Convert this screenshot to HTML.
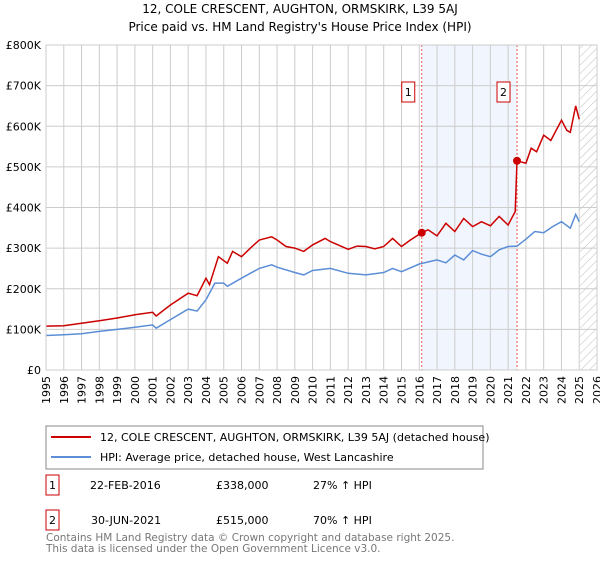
<!DOCTYPE html>
<html><head><meta charset="utf-8"><style>
body{margin:0;background:#fff;font-family:"DejaVu Sans","Liberation Sans",sans-serif;}
svg text{font-family:"DejaVu Sans","Liberation Sans",sans-serif;}
</style></head><body>
<svg id="chart" width="600" height="560" xmlns="http://www.w3.org/2000/svg">
<defs>
<pattern id="hatch" width="6" height="6" patternUnits="userSpaceOnUse" patternTransform="rotate(45)">
<line x1="0" y1="0" x2="0" y2="6" stroke="#bbb" stroke-width="1"/></pattern>
</defs>
<text x="300" y="13" text-anchor="middle" font-size="12">12, COLE CRESCENT, AUGHTON, ORMSKIRK, L39 5AJ</text>
<text x="300" y="31" text-anchor="middle" font-size="12">Price paid vs. HM Land Registry's House Price Index (HPI)</text>
<g id="plot"></g>
<g>
<rect x="46" y="426" width="437" height="43" fill="#fff" stroke="#888"/>
<line x1="51" y1="437" x2="91" y2="437" stroke="#cc0000" stroke-width="2"/>
<text x="100" y="441" font-size="11">12, COLE CRESCENT, AUGHTON, ORMSKIRK, L39 5AJ (detached house)</text>
<line x1="51" y1="457" x2="91" y2="457" stroke="#5b8ed6" stroke-width="2"/>
<text x="100" y="461" font-size="11">HPI: Average price, detached house, West Lancashire</text>
</g>
<g font-size="11">
<rect x="46" y="475" width="13" height="20" fill="#fff" stroke="#cc0000"/>
<text x="52.5" y="489" text-anchor="middle">1</text>
<text x="90" y="489">22-FEB-2016</text><text x="216" y="489">£338,000</text><text x="313" y="489">27% ↑ HPI</text>
<rect x="46" y="510" width="13" height="20" fill="#fff" stroke="#cc0000"/>
<text x="52.5" y="524" text-anchor="middle">2</text>
<text x="91" y="524">30-JUN-2021</text><text x="216" y="524">£515,000</text><text x="313" y="524">70% ↑ HPI</text>
</g>
<text x="46" y="541" font-size="10.5" fill="#777">Contains HM Land Registry data © Crown copyright and database right 2025.</text>
<text x="46" y="552" font-size="10.5" fill="#777">This data is licensed under the Open Government Licence v3.0.</text>
</svg>
<script>
const hpiYears=[1995,1996,1997,1998,1999,2000,2001,2001.2,2002,2003,2003.5,2004,2004.5,2005,2005.2,2006,2007,2007.7,2008,2009,2009.5,2010,2011,2012,2013,2014,2014.5,2015,2016,2017,2017.5,2018,2018.5,2019,2019.5,2020,2020.5,2021,2021.5,2022,2022.5,2023,2023.5,2024,2024.5,2024.8,2025];
const hpiValues=[85,87,89,95,100,105,111,103,124,150,145,173,214,214,206,226,250,259,253,240,234,245,250,238,234,240,250,242,261,271,264,283,271,294,285,279,296,304,305,322,341,338,353,365,349,383,365];
const priceYears=[1995,1996,1997,1998,1999,2000,2001,2001.2,2002,2003,2003.5,2004,2004.2,2004.7,2005.2,2005.5,2006,2006.5,2007,2007.7,2008,2008.5,2009,2009.5,2010,2010.7,2011,2012,2012.5,2013,2013.5,2014,2014.5,2015,2015.5,2016.14,2016.5,2017,2017.5,2018,2018.5,2019,2019.5,2020,2020.5,2021,2021.4,2021.5,2022,2022.3,2022.6,2023,2023.4,2024,2024.3,2024.5,2024.8,2025];
const priceValues=[108,109,115,121,128,136,142,133,160,189,183,226,210,279,263,292,279,300,320,328,320,304,300,292,308,324,316,297,305,304,298,304,324,304,320,338,345,330,361,341,373,353,365,355,378,357,390,515,509,546,537,578,565,615,590,585,650,617];
const saleYears=[2016.14,2021.5];
const saleValues=[338,515];
const saleLabels=["1","2"];
const yTicks=[0,100,200,300,400,500,600,700,800];
const yTickLabels=["£0","£100K","£200K","£300K","£400K","£500K","£600K","£700K","£800K"];
const xTicks=[1995,1996,1997,1998,1999,2000,2001,2002,2003,2004,2005,2006,2007,2008,2009,2010,2011,2012,2013,2014,2015,2016,2017,2018,2019,2020,2021,2022,2023,2024,2025,2026];

const L=46,R=597,T=45,B=370,x0=1995,x1=2026,yMax=800;
const X=v=>L+(v-x0)/(x1-x0)*(R-L);
const Y=v=>B-v/yMax*(B-T);
const NS="http://www.w3.org/2000/svg";
const g=document.getElementById('plot');
function mk(t,a,p){const e=document.createElementNS(NS,t);for(const k in a)e.setAttribute(k,a[k]);(p||g).appendChild(e);return e;}
mk('rect',{x:L,y:T,width:R-L,height:B-T,fill:'#fff'});
const sh=mk('rect',{x:X(saleYears[0]),y:T,width:X(saleYears[1])-X(saleYears[0]),height:B-T,fill:'#eef3fc',opacity:0.8});


const ht=mk('rect',{x:X(2025.05),y:T,width:R-X(2025.05),height:B-T,fill:'url(#hatch)'});


xTicks.forEach(t=>{
 mk('line',{x1:X(t),y1:T,x2:X(t),y2:B,stroke:'#ccc','stroke-width':1});
 const tx=mk('text',{x:0,y:0,'font-size':11,'text-anchor':'end',transform:`translate(${X(t)+4},${B+6}) rotate(-90)`});
 tx.textContent=t;
 
 
});
yTicks.forEach((t,i)=>{
 mk('line',{x1:L,y1:Y(t),x2:R,y2:Y(t),stroke:'#ccc','stroke-width':1});
 const tx=mk('text',{x:L-5,y:Y(t)+4,'font-size':11,'text-anchor':'end'});
 tx.textContent=yTickLabels[i];
 
 
});
saleYears.forEach(s=>{mk('line',{x1:X(s),y1:T,x2:X(s),y2:B,stroke:'#ee5555','stroke-width':1,'stroke-dasharray':'2,2'});});
function path(xs,vs,col,name){
 const d=xs.map((x,i)=>(i?'L':'M')+X(x).toFixed(1)+','+Y(vs[i]).toFixed(1)).join('');
 const p=mk('path',{d:d,fill:'none',stroke:col,'stroke-width':1.5});
 
 
}
path(hpiYears,hpiValues,'#5b8ed6','hpi-line');
path(priceYears,priceValues,'#cc0000','price-line');
saleYears.forEach((s,i)=>{
 const c=mk('circle',{cx:X(s),cy:Y(saleValues[i]),r:4,fill:'#cc0000'});
 
 
 const bx=mk('rect',{x:X(s)-20,y:82,width:13,height:20,fill:'#fff',stroke:'#cc0000'});
 
 
 const t=mk('text',{x:X(s)-13.5,y:96,'font-size':11,'text-anchor':'middle'});
 t.textContent=saleLabels[i];
});
mk('rect',{x:L,y:T,width:R-L,height:B-T,fill:'none',stroke:'#ccc'});
</script>
</body></html>
